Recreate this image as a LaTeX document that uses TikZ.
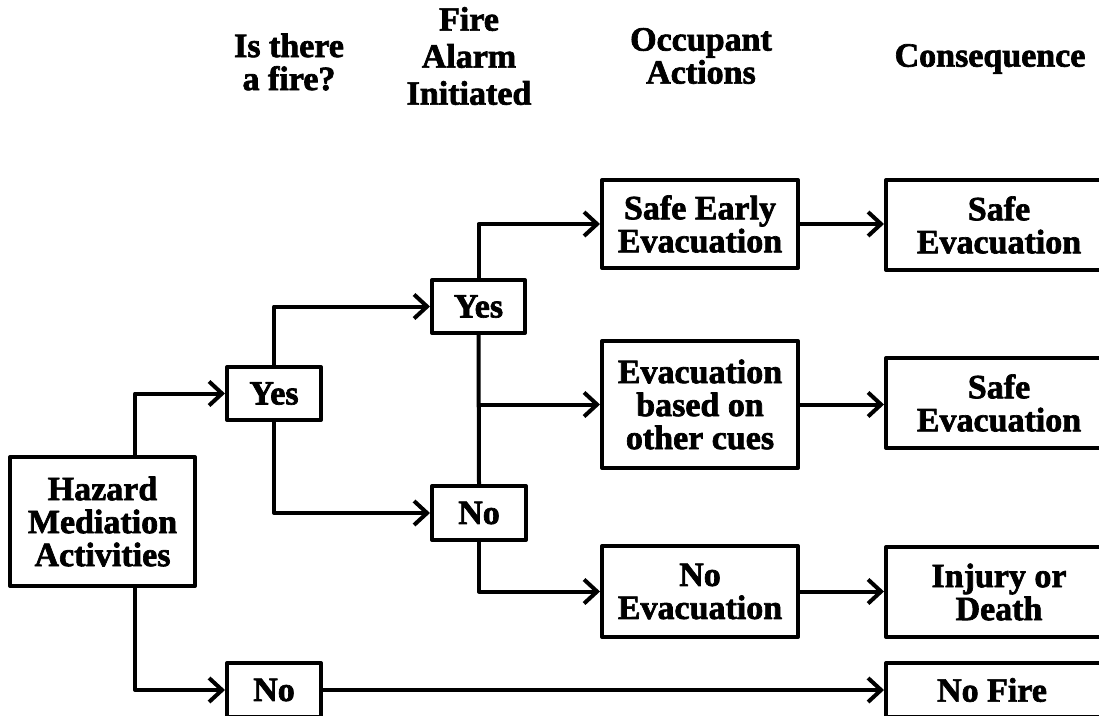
\documentclass[tikz,border=0pt]{standalone}
\usepackage{fontspec}
\usetikzlibrary{arrows.meta}
% heavy serif used for every label
\newfontfamily\dfont{Liberation Serif Bold}[FakeBold=2]

\tikzset{
  lbl/.style={font=\dfont\fontsize{34}{33}\selectfont, align=center, inner sep=0pt},
  box/.style={lbl, draw, line width=4pt, line join=round, minimum width=#1},
  box/.default=196pt,
  wire/.style={line width=4pt, line join=round},
  arr/.style={wire, -{Straight Barb[length=13pt,width=24pt,line width=4pt]}},
}

\begin{document}
\begin{tikzpicture}[x=1pt,y=-1pt]
\useasboundingbox (0,0) rectangle (1099,715);
\clip (0,0) rectangle (1099,715);
\fill[white] (0,0) rectangle (1099,715);

% column headings
\node[lbl] (h1) at (289,62) {Is there\\a fire?};
\node[lbl, font=\dfont\fontsize{34}{37}\selectfont] (h2) at (469,56) {Fire\\Alarm\\Initiated};
\node[lbl] (h3) at (701,56) {Occupant\\Actions};
\node[lbl] (h4) at (990,59) {Consequence};

% starting activity
\node[box=185pt, minimum height=129pt] (haz) at (102.5,521.5) {Hazard\\Mediation\\Activities};

% is there a fire?
\node[box=94pt, minimum height=53pt] (yes1) at (274,393.5) {Yes};
\node[box=94pt, minimum height=54pt] (no1)  at (274,690) {No};

% fire alarm initiated
\node[box=93pt, minimum height=53pt] (yes2) at (478.5,306.5) {Yes};
\node[box=94pt, minimum height=54pt] (no2)  at (479,513) {No};

% occupant actions
\node[box, minimum height=88pt]  (early) at (700,224)   {Safe Early\\Evacuation};
\node[box, minimum height=127pt] (cues)  at (700,404.5) {Evacuation\\based on\\other cues};
\node[box, minimum height=91pt]  (noev)  at (700,591.5) {No\\Evacuation};

% consequences
\node[box=226pt, minimum height=90pt] (c1) at (999,225) {Safe\\Evacuation};
\node[box=226pt, minimum height=90pt] (c2) at (999,403) {Safe\\Evacuation};
\node[box=226pt, minimum height=90pt] (c3) at (999,592) {Injury or\\Death};
\node[box=226pt, minimum height=54pt] (c4) at (999,690) {No Fire\hspace*{14pt}};

% branches out of the hazard box
\draw[arr] ([xshift=32.5pt]haz.north) |- (yes1.west);
\draw[arr] ([xshift=32.5pt]haz.south) |- (no1.west);

% fire: alarm or not
\draw[arr] (yes1.north) |- (yes2.west);
\draw[arr] (yes1.south) |- (no2.west);

% alarm outcomes
\draw[arr] (yes2.north) |- (early.west);
\draw[wire] (yes2.south) -- (no2.north);
\coordinate (split) at (yes2.south |- cues.west);
\draw[arr] (split) -- (cues.west);
\draw[arr] (no2.south) |- (noev.west);

% actions to consequences
\draw[arr] (early.east) -- (early.east -| c1.west);
\draw[arr] (cues.east) -- (cues.east -| c2.west);
\draw[arr] (noev.east) -- (noev.east -| c3.west);
\draw[arr] (no1.east) -- (no1.east -| c4.west);
\end{tikzpicture}
\end{document}
